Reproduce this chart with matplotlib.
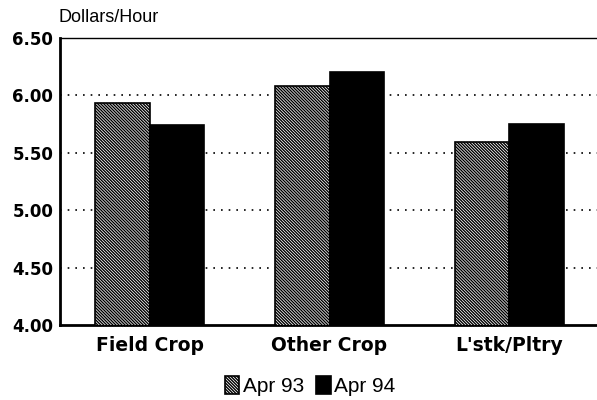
import matplotlib
matplotlib.use("Agg")
import matplotlib.pyplot as plt
import numpy as np

categories = ["Field Crop", "Other Crop", "L'stk/Pltry"]
apr93 = [5.93, 6.08, 5.59]
apr94 = [5.74, 6.20, 5.75]
series_labels = ["Apr 93", "Apr 94"]
yticks = [4.00, 4.50, 5.00, 5.50, 6.00, 6.50]

plt.rcParams['font.family'] = ['Liberation Sans', 'DejaVu Sans']
plt.rcParams['hatch.linewidth'] = 1.0

W, H = 597, 400
fig = plt.figure(figsize=(W / 100, H / 100), dpi=100)
ax = fig.add_axes([59.5 / W, (H - 325) / H, 540 / W, (325 - 38) / H])

x = np.arange(len(categories))
w = 0.305
ax.bar(x - w/2, apr93, w, color='white', edgecolor='black',
       hatch='\\' * 11, linewidth=1.2, label=series_labels[0], zorder=3)
ax.bar(x + w/2, apr94, w, color='black', edgecolor='black',
       linewidth=1.2, label=series_labels[1], zorder=3)

ax.set_ylim(4.0, 6.5)
ax.set_xlim(-0.5, 2.5)
ax.set_yticks(yticks)
ax.set_yticklabels([f"{v:.2f}" for v in yticks],
                   fontsize=12, fontweight='bold', family='DejaVu Sans')
ax.set_xticks(x)
ax.set_xticklabels(categories, fontsize=13.5, fontweight='bold', family='DejaVu Sans')
ax.tick_params(axis='x', length=0, pad=8)
ax.tick_params(axis='y', length=0, pad=4.5)

for v in yticks[1:-1]:
    ax.axhline(v, color='black', linestyle=(0, (1, 3.6)), linewidth=1.2, zorder=1)

ax.spines['left'].set_linewidth(2)
ax.spines['bottom'].set_linewidth(2)
ax.spines['top'].set_linewidth(1)
ax.spines['right'].set_visible(False)

fig.text(59 / W, 1 - 22 / H, "Dollars/Hour", fontsize=13, ha='left', va='baseline')

leg = fig.legend(loc='center', bbox_to_anchor=(310 / W, 1 - 386 / H), ncol=2, frameon=False,
                 fontsize=15, handlelength=0.7, handleheight=1.0,
                 handletextpad=0.15, columnspacing=0.6, borderpad=0, borderaxespad=0)

fig.savefig("out.png", dpi=100)
